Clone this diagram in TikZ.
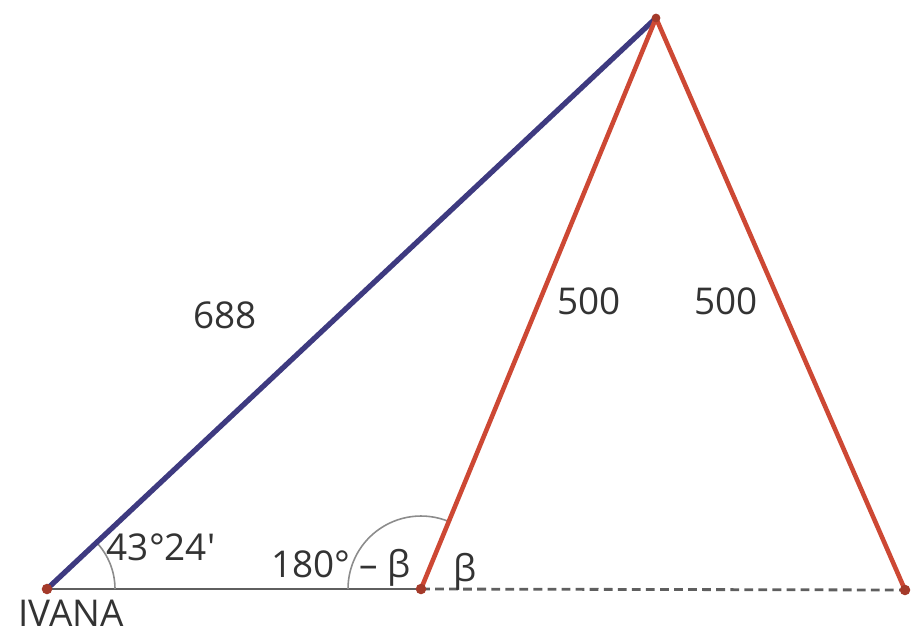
\documentclass[tikz,border=0pt]{standalone}
\usepackage{fontspec}
\setmainfont{Open Sans}
\usetikzlibrary{positioning,calc}
\definecolor{sideblue}{RGB}{62,58,128}
\definecolor{sidered}{RGB}{205,72,52}
\definecolor{baseg}{RGB}{95,95,95}
\tikzset{rvert/.style={circle,fill=sidered!80!black,minimum size=6pt,inner sep=0pt}  }
\tikzset{lbl/.style={font=\fontsize{21}{24}\selectfont,text=black!80,inner sep=1pt}  }
\tikzset{arcg/.style={draw=black!45,line width=0.9pt}  }

\begin{document}
\begin{tikzpicture}
	\useasboundingbox (0,0) rectangle (18.34,12.66);
		\coordinate (ivana) at (0.94,0.88);
			\coordinate (peak) at (13.12,12.30);
			\coordinate (foot) at (8.42,0.88);
			\coordinate (far) at (18.10,0.86);

			% ground line
			\draw[baseg,line width=1.6pt] (ivana) -- (foot);
			\draw[baseg,line width=1.6pt,dash pattern=on 5pt off 3pt] (foot) -- (far);

			% angle arcs
			\draw[arcg] ($(ivana)+(1.36,0)$) arc[start angle=0,end angle=43.4,radius=1.36];
			\draw[arcg] ($(foot)+(67.6:1.46)$) arc[start angle=67.6,end angle=180,radius=1.46];

			\draw[sideblue,line width=3pt,line cap=round] (ivana) -- (peak);
			\draw[sidered,line width=2.6pt,line cap=round]
				  (peak) edge (foot) edge (far)
				;
			\node[rvert] at (ivana) {};
			\node[rvert] at (foot) {};
			\node[rvert] at (far) {};
			\node[rvert,minimum size=5pt] at (peak) {};

				\node[lbl] (l688) at (4.50,6.36) {688};
				\node[lbl] (l500a) at (11.78,6.64) {500};
				\node[lbl] (l500b) at (14.52,6.64) {500};
				\node[lbl] (lalpha) at (3.22,1.72) {43°24′};
				\node[lbl] (lsupp) at (6.82,1.30) {180° – β};
				\node[lbl] (lbeta) at (9.30,1.22) {β};
				\node[lbl] (livana) at (1.42,0.40) {IVANA};
	\end{tikzpicture}
\end{document}
